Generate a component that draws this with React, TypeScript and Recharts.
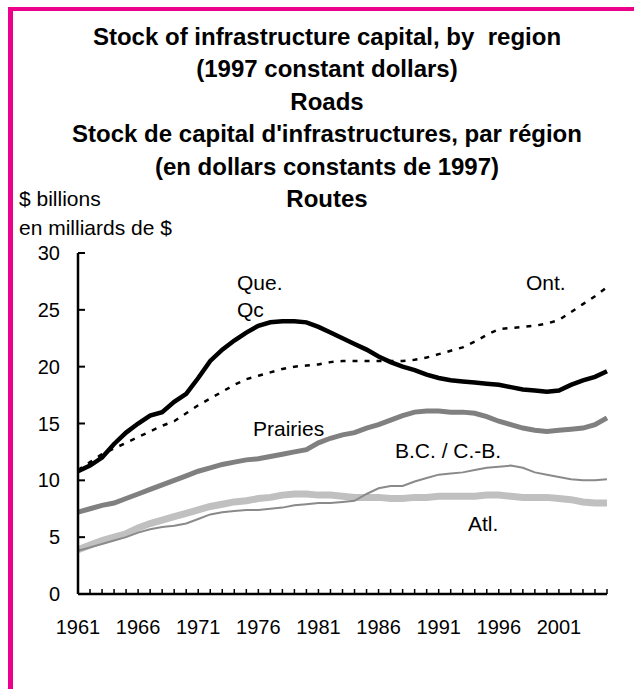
import { LineChart, Line, XAxis, YAxis } from 'recharts';

const years = [
  1961, 1962, 1963, 1964, 1965, 1966, 1967, 1968, 1969, 1970,
  1971, 1972, 1973, 1974, 1975, 1976, 1977, 1978, 1979, 1980,
  1981, 1982, 1983, 1984, 1985, 1986, 1987, 1988, 1989, 1990,
  1991, 1992, 1993, 1994, 1995, 1996, 1997, 1998, 1999, 2000,
  2001, 2002, 2003, 2004, 2005,
];

// $ billions, 1997 constant dollars
const que = [
  10.8, 11.3, 12.0, 13.2, 14.2, 15.0, 15.7, 16.0, 16.9, 17.6,
  19.0, 20.5, 21.5, 22.3, 23.0, 23.6, 23.9, 24.0, 24.0, 23.9,
  23.5, 23.0, 22.5, 22.0, 21.5, 20.9, 20.4, 20.0, 19.7, 19.3,
  19.0, 18.8, 18.7, 18.6, 18.5, 18.4, 18.2, 18.0, 17.9, 17.8,
  17.9, 18.4, 18.8, 19.1, 19.6,
];
const ont = [
  10.9, 11.6, 12.3, 12.8, 13.3, 13.8, 14.3, 14.8, 15.2, 15.9,
  16.6, 17.2, 17.8, 18.4, 18.9, 19.2, 19.5, 19.8, 20.0, 20.1,
  20.2, 20.4, 20.5, 20.5, 20.5, 20.5, 20.5, 20.5, 20.6, 20.8,
  21.1, 21.4, 21.7, 22.2, 22.8, 23.3, 23.4, 23.5, 23.6, 23.8,
  24.1, 24.8, 25.5, 26.2, 27.0,
];
const prairies = [
  7.2, 7.5, 7.8, 8.0, 8.4, 8.8, 9.2, 9.6, 10.0, 10.4,
  10.8, 11.1, 11.4, 11.6, 11.8, 11.9, 12.1, 12.3, 12.5, 12.7,
  13.3, 13.7, 14.0, 14.2, 14.6, 14.9, 15.3, 15.7, 16.0, 16.1,
  16.1, 16.0, 16.0, 15.9, 15.6, 15.2, 14.9, 14.6, 14.4, 14.3,
  14.4, 14.5, 14.6, 14.9, 15.5,
];
const bc = [
  3.8, 4.1, 4.4, 4.7, 5.0, 5.4, 5.7, 5.9, 6.0, 6.2,
  6.6, 7.0, 7.2, 7.3, 7.4, 7.4, 7.5, 7.6, 7.8, 7.9,
  8.0, 8.0, 8.1, 8.2, 8.8, 9.3, 9.5, 9.5, 9.9, 10.2,
  10.5, 10.6, 10.7, 10.9, 11.1, 11.2, 11.3, 11.1, 10.7, 10.5,
  10.3, 10.1, 10.0, 10.0, 10.1,
];
const atl = [
  3.9, 4.3, 4.7, 5.0, 5.3, 5.8, 6.2, 6.5, 6.8, 7.1,
  7.4, 7.7, 7.9, 8.1, 8.2, 8.4, 8.5, 8.7, 8.8, 8.8,
  8.7, 8.7, 8.6, 8.5, 8.5, 8.5, 8.4, 8.4, 8.5, 8.5,
  8.6, 8.6, 8.6, 8.6, 8.7, 8.7, 8.6, 8.5, 8.5, 8.5,
  8.4, 8.3, 8.1, 8.0, 8.0,
];

const yTicks = [0, 5, 10, 15, 20, 25, 30];
const xLabels = [1961, 1966, 1971, 1976, 1981, 1986, 1991, 1996, 2001];

const titleLines = [
  'Stock of infrastructure capital, by  region',
  '(1997 constant dollars)',
  'Roads',
  "Stock de capital d'infrastructures, par région",
  '(en dollars constants de 1997)',
  'Routes',
];

const data = years.map((year, i) => ({
  year,
  que: que[i],
  ont: ont[i],
  prairies: prairies[i],
  bc: bc[i],
  atl: atl[i],
}));

const FONT = '"Liberation Sans", Arial, Helvetica, sans-serif';
const PINK = '#ec008c';

const App = () => {
  return (
    <div style={{ position: 'absolute', left: 0, top: 0, width: 634, height: 689, background: '#fff', overflow: 'hidden', fontFamily: FONT }}>
      {/* frame */}
      <div style={{ position: 'absolute', left: 8, top: 7, width: 626, height: 4, background: PINK }} />
      <div style={{ position: 'absolute', left: 8, top: 7, width: 5, height: 682, background: PINK }} />

      <LineChart
        width={634}
        height={689}
        data={data}
        margin={{ top: 253, right: 27, bottom: 0, left: 0 }}
        style={{ position: 'absolute', left: 0, top: 0 }}
      >
        <XAxis
          dataKey="year"
          type="number"
          domain={[1961, 2005]}
          ticks={years}
          interval={0}
          height={95}
          tickSize={-5}
          tickMargin={31}
          tickFormatter={(v) => (xLabels.includes(v) ? String(v) : '')}
          axisLine={{ stroke: '#000', strokeWidth: 2.5 }}
          tickLine={{ stroke: '#000', strokeWidth: 1.5 }}
          tick={{ fill: '#000', fontSize: 20, fontFamily: FONT }}
        />
        <YAxis
          type="number"
          domain={[0, 30]}
          ticks={yTicks}
          interval={0}
          width={78}
          tickSize={-7}
          tickMargin={25}
          axisLine={{ stroke: '#000', strokeWidth: 2.5 }}
          tickLine={{ stroke: '#000', strokeWidth: 2 }}
          tick={{ fill: '#000', fontSize: 20, fontFamily: FONT }}
        />
        <Line dataKey="atl" type="linear" stroke="#c0c0c0" strokeWidth={7} dot={false} isAnimationActive={false} />
        <Line dataKey="bc" type="linear" stroke="#8a8a8a" strokeWidth={2} dot={false} isAnimationActive={false} />
        <Line dataKey="prairies" type="linear" stroke="#808080" strokeWidth={5} dot={false} isAnimationActive={false} />
        <Line dataKey="ont" type="linear" stroke="#000" strokeWidth={2.5} strokeDasharray="5 7" dot={false} isAnimationActive={false} />
        <Line dataKey="que" type="linear" stroke="#000" strokeWidth={4.5} dot={false} isAnimationActive={false} />
      </LineChart>

      <svg width={634} height={689} style={{ position: 'absolute', left: 0, top: 0, pointerEvents: 'none' }} fontFamily={FONT}>
        {titleLines.map((t, i) => (
          <text key={i} x={327} y={45 + i * 32.4} textAnchor="middle" fontSize={24} fontWeight="bold" fill="#000" style={{ whiteSpace: 'pre' }}>
            {t}
          </text>
        ))}
        <text x={19} y={205.5} fontSize={21} fill="#000">$ billions</text>
        <text x={19} y={234.5} fontSize={21} fill="#000">en milliards de $</text>

        <text x={237} y={289.5} fontSize={21} fill="#000">Que.</text>
        <text x={237} y={316.5} fontSize={21} fill="#000">Qc</text>
        <text x={526} y={289.5} fontSize={21} fill="#000">Ont.</text>
        <text x={253} y={435.5} fontSize={21} fill="#000">Prairies</text>
        <text x={395} y={457.5} fontSize={21} fill="#000">B.C. / C.-B.</text>
        <text x={468} y={530.5} fontSize={21} fill="#000">Atl.</text>
      </svg>
    </div>
  );
};

export default App;
